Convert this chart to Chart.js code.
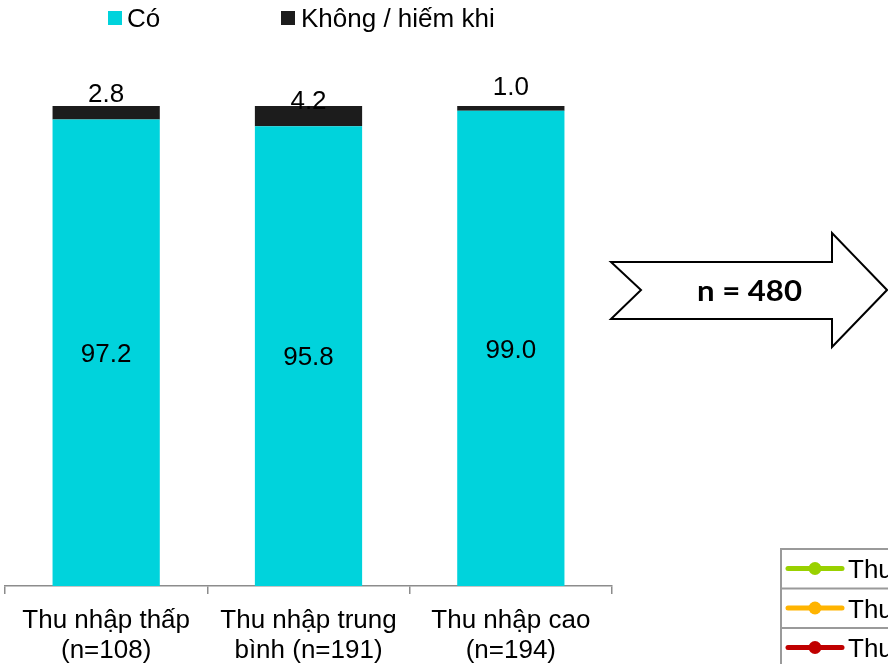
<!DOCTYPE html>
<html>
<head>
<meta charset="utf-8">
<script src="https://cdn.jsdelivr.net/npm/chart.js@4/dist/chart.umd.min.js"></script>
<style>
  html, body { margin: 0; padding: 0; background: #fff; }
  body { width: 888px; height: 664px; overflow: hidden; position: relative;
         font-family: "Liberation Sans", Arial, sans-serif; }
  #chartBox { position: absolute; left: 0; top: 0; width: 620px; height: 664px; }
  .lg { position: absolute; top: 5px; font-size: 26px; line-height: 26px; color: #000; white-space: nowrap; }
  .sw { position: absolute; top: 11px; width: 14px; height: 14px; }
  #deco { position: absolute; left: 0; top: 0; }
</style>
</head>
<body>
<div id="chartBox"><canvas id="c"></canvas></div>

<div class="sw" id="sw0" style="left:108px;"></div>
<div class="lg" style="left:127px;">Có</div>
<div class="sw" id="sw1" style="left:281px;"></div>
<div class="lg" style="left:301px;">Không / hiếm khi</div>

<svg id="deco" width="888" height="664" xmlns="http://www.w3.org/2000/svg">
  <polygon points="611,262 832,262 832,233 887,290 832,347 832,319 611,319 641,290"
           fill="#fff" stroke="#000" stroke-width="2" stroke-linejoin="miter"/>
  <text x="697" y="301" font-family="Lato, 'Open Sans', sans-serif" font-weight="bold"
        font-size="29" textLength="105" lengthAdjust="spacingAndGlyphs" fill="#000">n = 480</text>

  <g id="keyTable"></g>
</svg>

<script>
// Income groups and the share answering each way (%)
const categories = [
  ['Thu nhập thấp', '(n=108)'],
  ['Thu nhập trung', 'bình (n=191)'],
  ['Thu nhập cao', '(n=194)']
];
const seriesNames = ['Có', 'Không / hiếm khi'];
const yesValues = [97.2, 95.8, 99.0];
const rarelyValues = [2.8, 4.2, 1.0];

// Line key for the income groups shown at the lower right
const keyNames = ['Thu nhập thấp', 'Thu nhập trung bình', 'Thu nhập cao'];

const CYAN = '#00d3dc';
const DARK = '#1c1c1c';
const KEY_COLORS = ['#99d100', '#ffb400', '#c00000'];

document.getElementById('sw0').style.background = CYAN;
document.getElementById('sw1').style.background = DARK;

// Build the key table
(function () {
  const ns = 'http://www.w3.org/2000/svg';
  const g = document.getElementById('keyTable');
  const left = 781, top = 549, rowH = 39.5;
  const mk = (tag, attrs) => {
    const e = document.createElementNS(ns, tag);
    for (const k in attrs) e.setAttribute(k, attrs[k]);
    g.appendChild(e);
    return e;
  };
  mk('rect', { x: left, y: top, width: 200, height: rowH * 3 + 10, fill: '#fff', stroke: '#9a9a9a', 'stroke-width': 2 });
  for (let i = 1; i < 3; i++) {
    mk('line', { x1: left, x2: 900, y1: top + rowH * i, y2: top + rowH * i, stroke: '#9a9a9a', 'stroke-width': 2 });
  }
  keyNames.forEach((name, i) => {
    const cy = top + rowH * i + 19.5;
    mk('line', { x1: 788, x2: 842, y1: cy, y2: cy, stroke: KEY_COLORS[i], 'stroke-width': 5, 'stroke-linecap': 'round' });
    mk('circle', { cx: 815, cy: cy, r: 6.5, fill: KEY_COLORS[i] });
    const t = mk('text', { x: 848, y: cy + 9.5, 'font-family': 'Liberation Sans, Arial, sans-serif', 'font-size': 26, fill: '#000' });
    t.textContent = name;
  });
})();

// Value labels: centred inside the main segment, above the thin top segment
const labelLift = [4, -3, 11];
const valueLabels = {
  id: 'valueLabels',
  afterDatasetsDraw(chart) {
    const ctx = chart.ctx;
    ctx.save();
    ctx.font = '26px "Liberation Sans", Arial, sans-serif';
    ctx.fillStyle = '#000';
    ctx.textAlign = 'center';
    chart.getDatasetMeta(0).data.forEach((el, i) => {
      ctx.textBaseline = 'middle';
      ctx.fillText(yesValues[i].toFixed(1), el.x, (el.y + el.base) / 2 + 2);
    });
    chart.getDatasetMeta(1).data.forEach((el, i) => {
      ctx.textBaseline = 'alphabetic';
      ctx.fillText(rarelyValues[i].toFixed(1), el.x, el.y - labelLift[i]);
    });
    ctx.restore();
  }
};

new Chart(document.getElementById('c'), {
  type: 'bar',
  data: {
    labels: categories,
    datasets: [
      { label: seriesNames[0], data: yesValues, backgroundColor: CYAN },
      { label: seriesNames[1], data: rarelyValues, backgroundColor: DARK }
    ]
  },
  options: {
    responsive: true,
    maintainAspectRatio: false,
    animation: false,
    layout: { padding: { top: 106, left: 5, right: 8, bottom: 0 } },
    datasets: { bar: { categoryPercentage: 1, barPercentage: 0.53 } },
    plugins: { legend: { display: false }, tooltip: { enabled: false } },
    scales: {
      x: {
        stacked: true,
        afterFit(scale) { scale.height = 78; },
        grid: { display: true, drawOnChartArea: false, drawTicks: true, tickLength: 8, color: '#8c8c8c', offset: true, lineWidth: 1.5 },
        border: { display: true, color: '#8c8c8c', width: 1.5 },
        ticks: {
          color: '#000',
          padding: 11,
          maxRotation: 0,
          autoSkip: false,
          font: { family: '"Liberation Sans", Arial, sans-serif', size: 26, lineHeight: 1.18 }
        }
      },
      y: { stacked: true, display: false, min: 0, max: 100 }
    }
  },
  plugins: [valueLabels]
});
</script>
</body>
</html>
